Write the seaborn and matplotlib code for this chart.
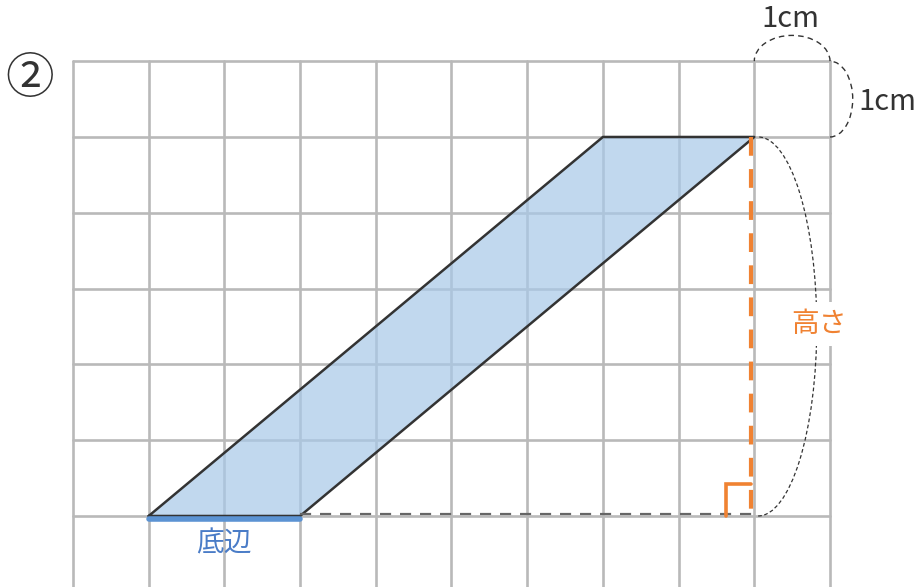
import matplotlib
matplotlib.use("Agg")
import matplotlib.pyplot as plt
import seaborn as sns
import pandas as pd
import numpy as np
from matplotlib.patches import Arc

sns.set_style("white")
plt.rcParams['font.family'] = ['Noto Sans CJK JP', 'DejaVu Sans']

# grid (1 cell = 1 cm)
grid_cols = list(range(0, 11))
grid_rows = list(range(0, 7))

# parallelogram vertices (cm)
para_x = [1, 3, 9, 7]
para_y = [0, 0, 5, 5]

# base and height
base_x = [1, 3]
base_y = [0, 0]
height_x = [9, 9]
height_y = [5, 0]
label_base = "底辺"
label_height = "高さ"
label_unit = "1cm"
label_num = "②"

fig = plt.figure(figsize=(9.17, 5.87), dpi=100)
ax = fig.add_axes([0, 0, 1, 1])
ax.set_xlim(-0.964, 11.149)
ax.set_ylim(-0.937, 6.807)
ax.axis("off")

grid_color = "#b9b9b9"
for c in grid_cols:
    ax.plot([c, c], [-1.0, grid_rows[-1]], color=grid_color, lw=1.9, zorder=1)
for r in grid_rows:
    ax.plot([grid_cols[0], grid_cols[-1]], [r, r], color=grid_color, lw=1.9, zorder=1)

# parallelogram
ax.fill(para_x, para_y, facecolor="#a9c9e8", alpha=0.72, edgecolor="none", zorder=2)
ax.plot(para_x + para_x[:1], para_y + para_y[:1], color="#333333", lw=1.8, zorder=3)

# base (blue)
base_df = pd.DataFrame({"x": base_x, "y": [v - 0.04 for v in base_y]})
sns.lineplot(data=base_df, x="x", y="y", color="#5b93d3", lw=4, ax=ax, zorder=4)
ax.text(np.mean(base_x), -0.36, label_base, color="#4a7cc7", fontsize=20,
        ha="center", va="center")

# extended baseline (dashed gray)
ax.plot([base_x[1], height_x[0]], [0.02, 0.02], color="#666666", lw=1.6,
        dashes=(5, 4), zorder=3)

# height (orange dashed)
ax.plot([v - 0.04 for v in height_x], height_y, color="#f08232", lw=3,
        dashes=(4.5, 3.2), zorder=5)
# right angle mark
ax.plot([8.62, 8.62, 8.96], [0.0, 0.42, 0.42], color="#f08232", lw=2.6,
        solid_joinstyle="miter", zorder=5)

# height brace arc and label
ax.add_patch(Arc((9.05, 2.5), 1.55, 5.0, theta1=-90, theta2=90, ls=(0, (3, 2)),
                 lw=0.9, color="#333333", zorder=3))
ax.text(9.85, 2.53, label_height, color="#f08232", fontsize=20, ha="center",
        va="center", zorder=6,
        bbox=dict(boxstyle="square,pad=0.25", facecolor="white", edgecolor="none"))

# 1 cm arcs
ax.add_patch(Arc((9.5, 6.0), 1.0, 0.68, theta1=0, theta2=180, ls=(0, (4, 3)),
                 lw=1.0, color="#333333", zorder=3))
ax.add_patch(Arc((10.0, 5.5), 0.6, 1.0, theta1=-90, theta2=90, ls=(0, (4, 3)),
                 lw=1.0, color="#333333", zorder=3))
ax.text(9.47, 6.55, label_unit, color="#333333", fontsize=21, ha="center", va="center")
ax.text(10.38, 5.46, label_unit, color="#333333", fontsize=21, ha="left", va="center")

# problem number
ax.text(-0.57, 5.76, label_num, color="#333333", fontsize=35, ha="center", va="center")

fig.savefig("out.png", dpi=100)
